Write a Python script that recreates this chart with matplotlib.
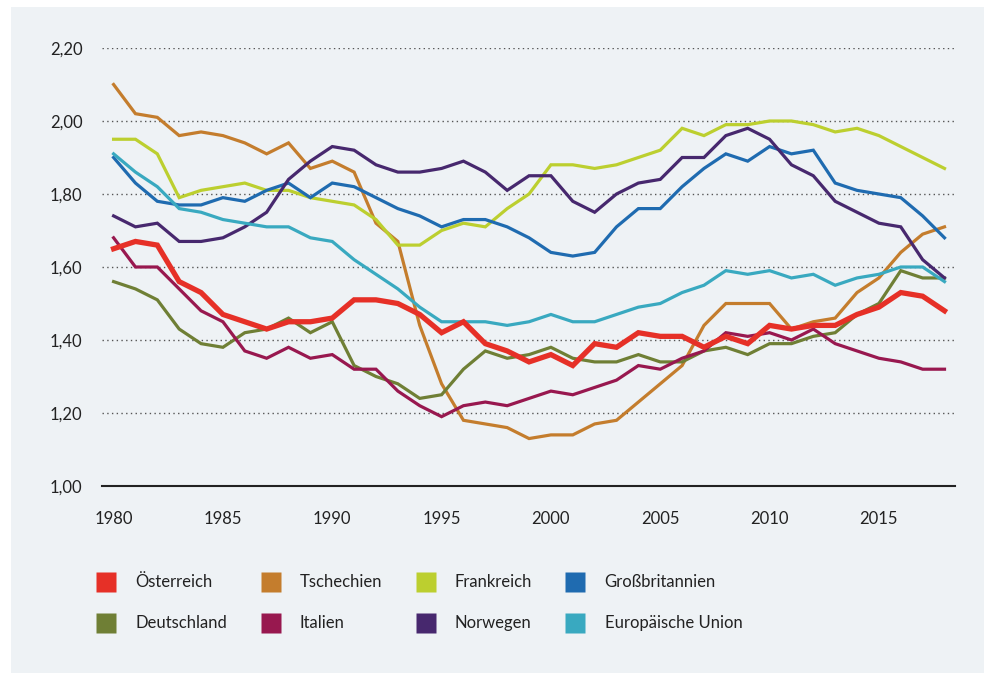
import matplotlib
matplotlib.use("Agg")
import matplotlib.pyplot as plt
from matplotlib.patches import Rectangle
from matplotlib.lines import Line2D
from matplotlib.ticker import FuncFormatter

plt.rcParams['font.family'] = ['Lato', 'DejaVu Sans']

# Jahre 1980-2018
years = list(range(1980, 2019))

oesterreich = [1.65, 1.67, 1.66, 1.56, 1.53, 1.47, 1.45, 1.43, 1.45, 1.45,
               1.46, 1.51, 1.51, 1.50, 1.47, 1.42, 1.45, 1.39, 1.37, 1.34,
               1.36, 1.33, 1.39, 1.38, 1.42, 1.41, 1.41, 1.38, 1.41, 1.39,
               1.44, 1.43, 1.44, 1.44, 1.47, 1.49, 1.53, 1.52, 1.48]
tschechien = [2.10, 2.02, 2.01, 1.96, 1.97, 1.96, 1.94, 1.91, 1.94, 1.87,
              1.89, 1.86, 1.72, 1.67, 1.44, 1.28, 1.18, 1.17, 1.16, 1.13,
              1.14, 1.14, 1.17, 1.18, 1.23, 1.28, 1.33, 1.44, 1.50, 1.50,
              1.50, 1.43, 1.45, 1.46, 1.53, 1.57, 1.64, 1.69, 1.71]
frankreich = [1.95, 1.95, 1.91, 1.79, 1.81, 1.82, 1.83, 1.81, 1.81, 1.79,
              1.78, 1.77, 1.73, 1.66, 1.66, 1.70, 1.72, 1.71, 1.76, 1.80,
              1.88, 1.88, 1.87, 1.88, 1.90, 1.92, 1.98, 1.96, 1.99, 1.99,
              2.00, 2.00, 1.99, 1.97, 1.98, 1.96, 1.93, 1.90, 1.87]
grossbritannien = [1.90, 1.83, 1.78, 1.77, 1.77, 1.79, 1.78, 1.81, 1.83, 1.79,
                   1.83, 1.82, 1.79, 1.76, 1.74, 1.71, 1.73, 1.73, 1.71, 1.68,
                   1.64, 1.63, 1.64, 1.71, 1.76, 1.76, 1.82, 1.87, 1.91, 1.89,
                   1.93, 1.91, 1.92, 1.83, 1.81, 1.80, 1.79, 1.74, 1.68]
deutschland = [1.56, 1.54, 1.51, 1.43, 1.39, 1.38, 1.42, 1.43, 1.46, 1.42,
               1.45, 1.33, 1.30, 1.28, 1.24, 1.25, 1.32, 1.37, 1.35, 1.36,
               1.38, 1.35, 1.34, 1.34, 1.36, 1.34, 1.34, 1.37, 1.38, 1.36,
               1.39, 1.39, 1.41, 1.42, 1.47, 1.50, 1.59, 1.57, 1.57]
italien = [1.68, 1.60, 1.60, 1.54, 1.48, 1.45, 1.37, 1.35, 1.38, 1.35,
           1.36, 1.32, 1.32, 1.26, 1.22, 1.19, 1.22, 1.23, 1.22, 1.24,
           1.26, 1.25, 1.27, 1.29, 1.33, 1.32, 1.35, 1.37, 1.42, 1.41,
           1.42, 1.40, 1.43, 1.39, 1.37, 1.35, 1.34, 1.32, 1.32]
norwegen = [1.74, 1.71, 1.72, 1.67, 1.67, 1.68, 1.71, 1.75, 1.84, 1.89,
            1.93, 1.92, 1.88, 1.86, 1.86, 1.87, 1.89, 1.86, 1.81, 1.85,
            1.85, 1.78, 1.75, 1.80, 1.83, 1.84, 1.90, 1.90, 1.96, 1.98,
            1.95, 1.88, 1.85, 1.78, 1.75, 1.72, 1.71, 1.62, 1.57]
eu = [1.91, 1.86, 1.82, 1.76, 1.75, 1.73, 1.72, 1.71, 1.71, 1.68,
      1.67, 1.62, 1.58, 1.54, 1.49, 1.45, 1.45, 1.45, 1.44, 1.45,
      1.47, 1.45, 1.45, 1.47, 1.49, 1.50, 1.53, 1.55, 1.59, 1.58,
      1.59, 1.57, 1.58, 1.55, 1.57, 1.58, 1.60, 1.60, 1.56]

labels = ["Österreich", "Tschechien", "Frankreich", "Großbritannien",
          "Deutschland", "Italien", "Norwegen", "Europäische Union"]
series = [oesterreich, tschechien, frankreich, grossbritannien,
          deutschland, italien, norwegen, eu]
colors = ["#e63027", "#c47d2d", "#bccf2f", "#1f6bb0",
          "#6f7f35", "#98184f", "#47286e", "#39a9c0"]

fig = plt.figure(figsize=(9.84, 6.73), dpi=100)
fig.patch.set_facecolor("white")
fig.add_artist(Rectangle((11 / 984, 0), 1, 666 / 673, transform=fig.transFigure,
                         facecolor="#eef2f5", edgecolor="none", zorder=-10))

ax = fig.add_axes([102 / 984, 187 / 673, 853 / 984, 438 / 673])
ax.set_facecolor("none")

# Österreich zuletzt und dicker zeichnen
for i in range(1, len(series)):
    ax.plot(years, series[i], color=colors[i], lw=2.3, solid_joinstyle="miter", zorder=3)
ax.plot(years, series[0], color=colors[0], lw=3.8, solid_joinstyle="miter", zorder=4)

ax.set_xlim(1979.47, 2018.48)
ax.set_ylim(1.0, 2.2)
ax.set_yticks([1.0, 1.2, 1.4, 1.6, 1.8, 2.0, 2.2])
ax.set_xticks(range(1980, 2016, 5))
ax.yaxis.set_major_formatter(FuncFormatter(lambda v, p: f"{v:.2f}".replace(".", ",")))
ax.yaxis.grid(True, linestyle=(0, (1, 2.4)), color="#555555", linewidth=1.0)
ax.set_axisbelow(True)
for s in ["top", "right", "left"]:
    ax.spines[s].set_visible(False)
ax.spines["bottom"].set_color("#222222")
ax.spines["bottom"].set_linewidth(1.5)
ax.spines["bottom"].set_zorder(5)
ax.tick_params(axis="both", length=0, labelsize=12, labelcolor="#222222")
ax.tick_params(axis="y", pad=14)
ax.tick_params(axis="x", pad=18)

# Legende: Reihenfolge spaltenweise
order = [0, 4, 1, 5, 2, 6, 3, 7]
handles = [Line2D([], [], linestyle="none", marker="s", markersize=15,
                  markerfacecolor=colors[k], markeredgecolor="none") for k in order]
fig.legend(handles, [labels[k] for k in order], ncol=4, frameon=False,
           loc="upper left", bbox_to_anchor=(88 / 984, 1 - 566 / 673),
           fontsize=12, handlelength=1.2, handletextpad=1.15,
           columnspacing=2.0, labelspacing=1.5, borderpad=0, labelcolor="#222222")

fig.savefig("out.png", dpi=100)
